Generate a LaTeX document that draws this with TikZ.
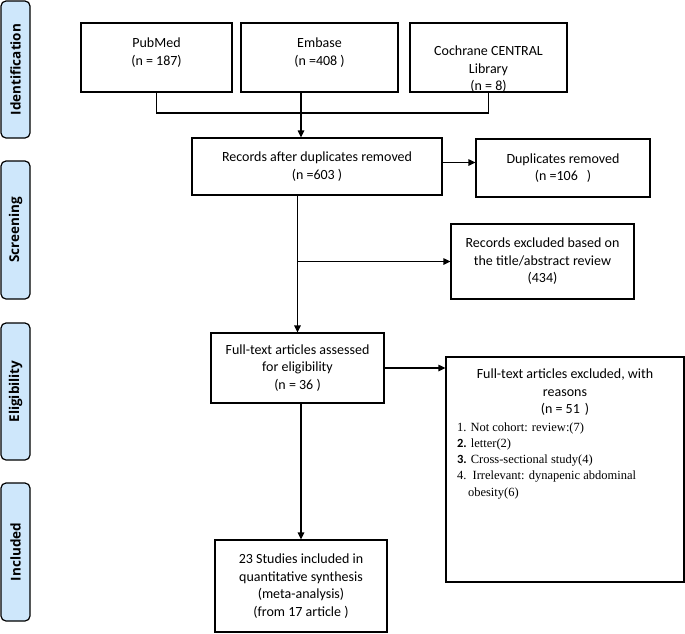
\documentclass[tikz,border=0pt]{standalone}
\usepackage{fontspec}
\setmainfont{Carlito}
\newfontfamily\listfont{Liberation Serif}
\newfontfamily\phasefont{Open Sans}
\usetikzlibrary{arrows.meta}
\definecolor{phaseblue}{RGB}{206,231,251}

\tikzset{
	box/.style={draw, line width=1.2pt, align=center, inner sep=0pt, font=\fontsize{14}{17.5}\selectfont},
	phase/.style={draw, line width=1.2pt, rounded corners=5pt, fill=phaseblue, rotate=90, inner sep=0pt,
		minimum height=29pt, font=\phasefont\bfseries\fontsize{13.5}{16}\selectfont},
	arr/.style={line width=1.2pt, -{Triangle[length=7pt,width=6.5pt]}},
}

\begin{document}
\begin{tikzpicture}[x=1pt, y=-1pt]
		\useasboundingbox (0, 0) rectangle (685, 633);
		%阶段
		\node[phase, minimum width=137pt] (ident) at(15.5, 69.5) {Identification};
		\node[phase, minimum width=138pt] (screen) at(15.5, 230) {Screening};
		\node[phase, minimum width=137pt] (elig) at(15.5, 391.5) {Eligibility};
		\node[phase, minimum width=138pt] (incl) at(15.5, 552) {Included};
		%数据库
		\node[box, minimum width=151pt, minimum height=69pt] (pubmed) at(156.5, 57.5)
			{\parbox[c][69pt][t]{151pt}{\vspace*{15pt}\centering PubMed\\(n = 187)}};
		\node[box, minimum width=157pt, minimum height=69pt] (embase) at(319.5, 57.5)
			{\parbox[c][69pt][t]{157pt}{\vspace*{15pt}\centering Embase\\(n =408 )}};
		\node[box, minimum width=157pt, minimum height=69pt] (cochrane) at(488.5, 57.5)
			{\parbox[c][69pt][t]{157pt}{\vspace*{23pt}\centering Cochrane CENTRAL\\Library\\(n = 8)}};
		\coordinate (trunk) at(301, 113);
		\draw[line width=1.2pt] (pubmed.south) |- (trunk) -| (cochrane.south);
		%筛选
		\node[box, minimum width=250pt, minimum height=57pt] (records) at(317, 166.5) {Records after duplicates removed\\(n =603 )};
		\node[box, minimum width=174pt, minimum height=58pt] (dupl) at(563, 168) {Duplicates removed\\(n =106\hspace{9pt})};
		\node[box, minimum width=183pt, minimum height=75pt] (excla) at(542.5, 261.5) {Records excluded based on\\the title/abstract review\\(434)};
		\draw[arr] (embase.south -| trunk) -- (records.north -| trunk);
		\draw[arr] ([yshift=4pt]records.east) -- ([yshift=4pt]dupl.west |- records.east);
		%合格
		\node[box, minimum width=173pt, minimum height=70pt] (fulltext) at(297.5, 368) {Full-text articles assessed\\for eligibility\\(n = 36 )};
		\node[box, minimum width=238pt, minimum height=225pt] (exclb) at(565, 469.5) {\parbox[c][225pt][t]{216pt}{\vspace*{12pt}\centering
			Full-text articles excluded, with\\reasons\\(n = 51\hspace{5pt})\par\vspace{1pt}
			\raggedright\listfont\fontsize{12.5}{16.3}\selectfont
			1. Not cohort: review:(7)\\
			{\rmfamily\bfseries 2.} letter(2)\\
			{\rmfamily\bfseries 3.} Cross-sectional study(4)\\
			4.\ \ Irrelevant: dynapenic abdominal\\
			\hspace*{11pt}obesity(6)\par}};
		\draw[arr] (records.south -| fulltext.north) -- (fulltext.north);
		\draw[arr] (fulltext.north |- excla.west) -- (excla.west);
		\draw[arr] (fulltext.east) -- (fulltext.east -| exclb.west);
		%纳入
		\node[box, minimum width=172pt, minimum height=92pt] (included) at(301, 586) {23 Studies included in\\quantitative synthesis\\(meta-analysis)\\(from 17 article )};
		\draw[arr] (fulltext.south -| included.north) -- (included.north);
	\end{tikzpicture}
\end{document}
